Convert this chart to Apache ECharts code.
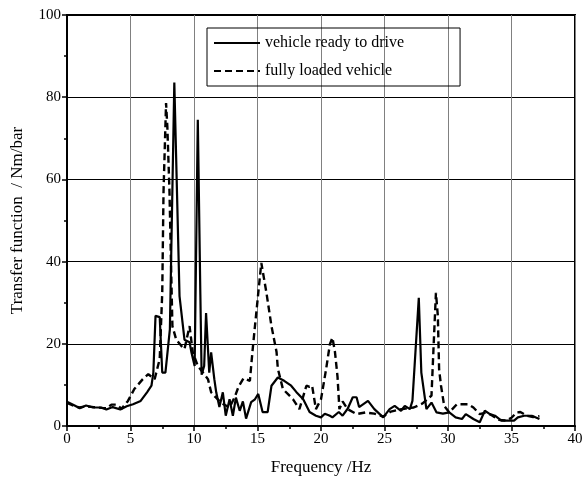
<!DOCTYPE html>
<html>
<head>
<meta charset="utf-8">
<script src="https://cdn.jsdelivr.net/npm/echarts@6/dist/echarts.min.js"></script>
<style>
  html, body { margin: 0; padding: 0; background: #fff; }
  #chart { width: 588px; height: 481px; }
</style>
</head>
<body>
<div id="chart"></div>
<script>
// vehicle ready to drive (solid)
const readyFreq = [0, 0.6, 1.0, 1.5, 2.06, 2.7, 3.1, 3.6, 4.2, 4.7, 5.2, 5.8, 6.3, 6.65, 6.8, 6.97, 7.3, 7.5, 7.75, 8.1, 8.45, 8.86, 9.25, 9.65, 9.8, 10.05, 10.3, 10.5, 10.6, 10.8, 10.95, 11.2, 11.35, 11.6, 11.75, 12.0, 12.27, 12.5, 12.8, 13.06, 13.3, 13.6, 13.85, 14.1, 14.5, 14.8, 15.06, 15.4, 15.8, 16.1, 16.6, 17.1, 17.65, 18.05, 18.6, 19.1, 19.6, 20.0, 20.3, 20.7, 20.9, 21.4, 21.7, 22.1, 22.5, 22.8, 23.0, 23.7, 24.2, 24.9, 25.4, 25.8, 26.3, 26.6, 27.0, 27.2, 27.7, 27.9, 28.3, 28.7, 29.1, 29.6, 30.1, 30.6, 31.1, 31.4, 32.0, 32.5, 32.9, 33.3, 33.7, 34.2, 34.6, 35.2, 35.5, 36.0, 36.6, 37.2];
const readyVal = [5.9, 5.0, 4.3, 5.0, 4.5, 4.5, 4.0, 4.6, 4.0, 4.8, 5.3, 6.1, 8.2, 9.8, 13, 26.8, 26.5, 13, 13, 23.5, 83.6, 31.6, 21, 20.4, 17.9, 14.6, 74.5, 32, 12.5, 14.6, 27.5, 13, 17.9, 11.4, 8.2, 4.6, 8.2, 2.5, 6.5, 2.5, 6.9, 3.7, 6.0, 1.8, 5.8, 6.5, 7.8, 3.4, 3.4, 9.8, 11.8, 11, 9.8, 8.3, 6.5, 3.4, 2.5, 2.1, 3.0, 2.5, 2.1, 3.4, 2.5, 4.2, 7.0, 7.0, 4.6, 6.1, 4.1, 2.1, 4.1, 4.9, 3.7, 4.9, 4.1, 6.1, 31.2, 13, 4.1, 5.7, 3.3, 3.0, 3.3, 2.1, 1.7, 2.9, 1.7, 0.9, 3.7, 2.9, 2.5, 1.3, 1.3, 1.3, 2.1, 2.5, 2.5, 1.7];

// fully loaded vehicle (dashed)
const loadedFreq = [0, 0.6, 1.0, 1.5, 2.1, 2.7, 3.1, 3.5, 3.9, 4.3, 4.8, 5.3, 5.97, 6.4, 6.9, 7.3, 7.5, 7.6, 7.8, 7.9, 8.07, 8.2, 8.3, 8.6, 9.0, 9.25, 9.65, 9.9, 10.3, 10.7, 11.1, 11.35, 11.7, 12.2, 12.8, 13.2, 13.5, 13.9, 14.4, 14.6, 14.8, 15.3, 15.7, 16.1, 16.5, 16.6, 17.0, 17.8, 18.3, 18.85, 19.1, 19.3, 19.6, 20.0, 20.4, 20.7, 20.9, 21.1, 21.3, 21.45, 21.7, 22.1, 22.8, 23.5, 24.2, 24.9, 25.5, 26.2, 26.8, 27.3, 28.0, 28.7, 28.9, 29.05, 29.2, 29.3, 29.45, 29.7, 30.1, 30.7, 31.1, 31.6, 32.0, 32.5, 33.0, 33.5, 34.0, 34.6, 35.0, 35.4, 35.7, 36.2, 36.7, 37.2];
const loadedVal = [5.6, 4.8, 4.5, 4.8, 4.6, 4.4, 4.3, 5.2, 5.2, 4.2, 6.1, 9.0, 11.4, 12.6, 11.4, 16.3, 32.5, 57, 78.6, 72.9, 57, 38, 24.3, 21, 19.5, 18.7, 24.3, 18, 14.6, 13, 11.4, 8.2, 7.0, 5.5, 4.5, 7.0, 9.5, 11.6, 11, 18, 24.3, 39.7, 32.5, 24.3, 18, 14, 9.0, 6.5, 4.1, 9.8, 9.5, 9.8, 4.1, 6.5, 13.8, 19.9, 21.5, 18, 12, 4.1, 6.0, 4.1, 2.9, 3.3, 3.0, 2.3, 3.5, 4.0, 4.3, 4.5, 5.5, 7.4, 21.9, 32.4, 26.8, 13.8, 9.8, 4.9, 3.3, 5.3, 5.3, 5.3, 4.5, 2.9, 3.3, 2.5, 1.5, 1.3, 2.0, 3.3, 3.4, 2.5, 2.2, 2.4];

const xTicks = [0, 5, 10, 15, 20, 25, 30, 35, 40];
const yTicks = [0, 20, 40, 60, 80, 100];

const serif = 'Liberation Serif';
const zip = (xs, ys) => xs.map((x, i) => [x, ys[i]]);

const chart = echarts.init(document.getElementById('chart'));
chart.setOption({
  animation: false,
  grid: { left: 67, right: 13, top: 15, bottom: 54, show: true, borderColor: '#000', borderWidth: 2 },
  legend: {
    orient: 'vertical',
    left: 207,
    top: 28,
    padding: [7, 56, 7, 6],
    itemWidth: 46,
    itemHeight: 14,
    itemGap: 12,
    borderColor: '#000',
    borderWidth: 1,
    itemStyle: { opacity: 0 },
    textStyle: { fontFamily: serif, fontSize: 16, color: '#000' },
    data: ['vehicle ready to drive', 'fully loaded vehicle']
  },
  xAxis: {
    type: 'value',
    min: 0, max: 40, interval: 5,
    name: 'Frequency /Hz',
    nameLocation: 'middle',
    nameGap: 33,
    nameTextStyle: { fontFamily: serif, fontSize: 17, color: '#000' },
    axisLine: { lineStyle: { color: '#000', width: 2 } },
    axisTick: { inside: false, length: 5, lineStyle: { color: '#000', width: 1.5 } },
    minorTick: { show: true, splitNumber: 2, length: 3, lineStyle: { color: '#000', width: 1.5 } },
    axisLabel: { fontFamily: serif, fontSize: 15, color: '#000', margin: 6,
      formatter: v => xTicks.includes(v) ? String(v) : '' },
    splitLine: { show: true, lineStyle: { color: '#808080', width: 1 } }
  },
  yAxis: {
    type: 'value',
    min: 0, max: 100, interval: 20,
    name: 'Transfer function  / Nm/bar',
    nameLocation: 'middle',
    nameGap: 41,
    nameTextStyle: { fontFamily: serif, fontSize: 17, color: '#000' },
    axisLine: { show: true, lineStyle: { color: '#000', width: 2 } },
    axisTick: { show: true, inside: false, length: 5, lineStyle: { color: '#000', width: 1.5 } },
    minorTick: { show: true, splitNumber: 2, length: 3, lineStyle: { color: '#000', width: 1.5 } },
    axisLabel: { fontFamily: serif, fontSize: 15, color: '#000', margin: 6,
      formatter: v => yTicks.includes(v) ? String(v) : '' },
    splitLine: { show: true, lineStyle: { color: '#000', width: 1 } }
  },
  series: [
    {
      name: 'vehicle ready to drive',
      type: 'line',
      symbol: 'none',
      data: zip(readyFreq, readyVal),
      lineStyle: { color: '#000', width: 2.2 },
      itemStyle: { color: '#000' },
      z: 3
    },
    {
      name: 'fully loaded vehicle',
      type: 'line',
      symbol: 'none',
      data: zip(loadedFreq, loadedVal),
      lineStyle: { color: '#000', width: 2.4, type: [7, 4] },
      itemStyle: { color: '#000' },
      z: 2
    }
  ]
});
</script>
</body>
</html>
